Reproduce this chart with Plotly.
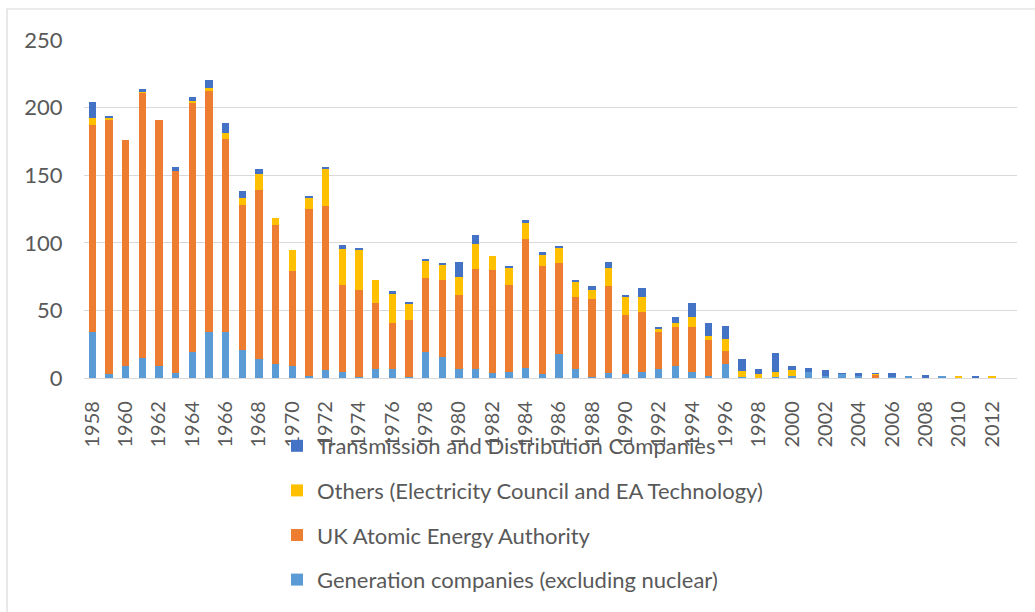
import plotly.graph_objects as go

years = [str(y) for y in range(1958, 2013)]

generation = [34, 3, 9, 15, 9, 4, 19, 34, 34, 21,
              14, 10, 9, 1.5, 6, 4.5, 1, 6.4, 6.4, 1,
              19, 15.6, 7, 6.4, 3.5, 4.5, 7.5, 3, 18, 6.7,
              1, 3.7, 2.7, 4.7, 6.7, 9, 4.7, 1.7, 10.6, 0.7,
              0.3, 0.5, 1.5, 4.7, 1.7, 3, 1.7, 0.3, 0.8, 1,
              0.2, 0.8, 0, 0.5, 0]
ukaea = [153, 188, 167, 196, 182, 149, 185, 179, 143, 107,
         125, 103, 70, 123.5, 121, 64, 64, 49, 34, 42,
         55, 57, 54.5, 74.5, 76.5, 64, 95.5, 80, 66.7, 53.3,
         57.5, 64, 44, 44.2, 27, 29, 33, 26.4, 9.4, 0,
         0, 0, 0, 0, 0, 0, 0, 2.5, 0, 0,
         0, 0, 0, 0, 0]
others = [5, 1, 0, 0.5, 0, 0, 1.2, 1.3, 4, 5,
          12, 5, 16, 8.7, 28, 27, 30, 17, 22, 12,
          12.6, 11.2, 13.4, 17.9, 10, 13.1, 11.6, 7.9, 12.1, 11.6,
          6.4, 14, 13.8, 10.9, 2.2, 2.7, 7.1, 2.8, 9.1, 4.2,
          2.4, 4.2, 4.2, 0, 0, 0, 0, 0.2, 0, 0,
          0, 0, 0.8, 0, 1.7]
transmission = [12.4, 1.8, 0, 2.4, 0, 2.7, 2.3, 6, 7.9, 5.2,
                3.3, 0, 0, 1, 1.3, 3.2, 1, 0, 2.3, 1,
                1.3, 1, 10.6, 7.1, 0, 1, 2.2, 2.1, 1.2, 1.2,
                3, 4, 1.2, 7.1, 1.8, 4.2, 10.9, 9.8, 9.7, 8.9,
                4, 14.1, 2.9, 3, 4.3, 0.7, 2, 0.7, 2.9, 0,
                2.3, 0, 0, 1.2, 0]

series = [
    ("Generation companies (excluding nuclear)", generation, "#5B9BD5"),
    ("UK Atomic Energy Authority", ukaea, "#ED7D31"),
    ("Others (Electricity Council and EA Technology)", others, "#FFC000"),
    ("Transmission and Distribution Companies", transmission, "#4472C4"),
]

y_ticks = [0, 50, 100, 150, 200, 250]
x_tick_labels = years[::2]

FONT = "Lato"
TEXT = "#595959"

fig = go.Figure()
n = len(series)
for i, (name, vals, color) in enumerate(series):
    fig.add_trace(go.Bar(
        x=years, y=vals, name=name, legendgroup=f"g{i}", legendrank=n - i,
        marker=dict(color=color, line=dict(width=0)),
    ))

PL, PR, PT, PB = 84, 1017, 40, 378
pw, ph = PR - PL, PB - PT

fig.update_layout(
    barmode="stack",
    bargap=0.56,
    width=1035, height=612,
    margin=dict(l=PL, r=1035 - PR, t=PT, b=612 - PB, autoexpand=False),
    paper_bgcolor="white", plot_bgcolor="white",
    font=dict(family=FONT, color=TEXT),
    legend=dict(
        orientation="v", traceorder="grouped", tracegroupgap=13,
        xref="container", yref="container",
        x=277 / 1035, xanchor="left", y=1 - 425 / 612, yanchor="top",
        font=dict(size=22, color=TEXT, family=FONT),
        bgcolor="rgba(0,0,0,0)",
    ),
    xaxis=dict(
        type="category", range=[-0.5, len(years) + 0.5], tickmode="array",
        tickvals=x_tick_labels, ticktext=x_tick_labels,
        tickangle=-90, tickfont=dict(size=20, color=TEXT),
        showgrid=False, showline=True, linecolor="#d9d9d9", linewidth=1.3,
        ticks="outside", ticklen=14, tickcolor="rgba(0,0,0,0)", automargin=False,
    ),
    yaxis=dict(
        range=[0, 250], tickvals=y_ticks,
        tickfont=dict(size=22, color=TEXT),
        showgrid=True, gridcolor="#d9d9d9", gridwidth=1.3,
        zeroline=False, showline=False,
        ticks="outside", ticklen=16, tickcolor="rgba(0,0,0,0)", automargin=False,
    ),
    shapes=[dict(
        type="rect", xref="paper", yref="paper",
        x0=(7 - PL) / pw, x1=(1045 - PL) / pw,
        y0=(PB - 640) / ph, y1=(PB - 9) / ph,
        line=dict(color="#d9d9d9", width=1.2), fillcolor="rgba(0,0,0,0)", layer="below",
    )],
)

fig.write_html(
    "out.html",
    config={"displayModeBar": False},
    post_script="document.body.style.margin='0';document.body.style.overflow='hidden';",
)
